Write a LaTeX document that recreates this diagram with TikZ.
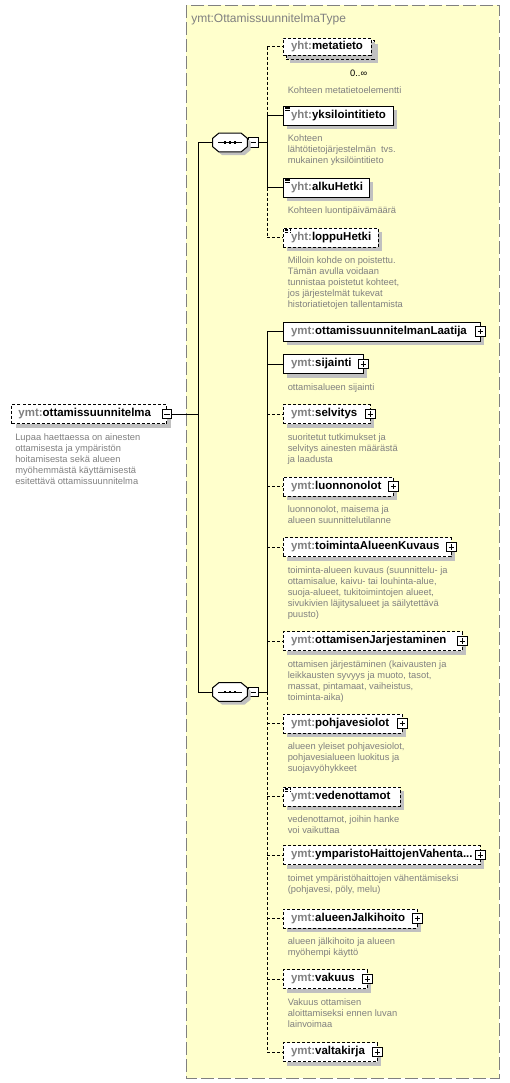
\documentclass[tikz,border=0pt]{standalone}
\usepackage{fontspec}
\setmainfont{Liberation Sans}
\usetikzlibrary{positioning,shadows}

\definecolor{typeyellow}{RGB}{255,255,204}
\definecolor{typegray}{RGB}{128,128,128}
\definecolor{shadowgray}{RGB}{192,192,192}
\definecolor{descgray}{RGB}{128,128,128}
\newcommand{\pfx}[1]{\textcolor{typegray}{#1}}
% octagon round a sequence node
\newcommand{\octpath}[1]{([shift={(6,0)}]#1.north west) -- ([shift={(-6,0)}]#1.north east)
    -- ([shift={(0,5)}]#1.north east) -- ([shift={(0,-5)}]#1.south east)
    -- ([shift={(-6,0)}]#1.south east) -- ([shift={(6,0)}]#1.south west)
    -- ([shift={(0,-5)}]#1.south west) -- ([shift={(0,5)}]#1.north west) -- cycle}

\begin{document}
\begin{tikzpicture}[x=0.75pt, y=-0.75pt,
    elem/.style={draw, fill=white, anchor=west, minimum height=14.25pt, inner xsep=6pt, inner ysep=0pt,
        align=left, text width=#1, line width=0.75pt, font=\fontsize{8.6}{10}\selectfont\bfseries,
        drop shadow={shadow xshift=3pt, shadow yshift=-3pt, fill=shadowgray, opacity=1}},
    optelem/.style={elem=#1, dash pattern=on 2.25pt off 1.5pt},
    smpl/.style={path picture={
        \foreach \k in {0.9,2.0,3.1}
            \draw[line width=0.5pt] ([shift={(1.6pt,-\k pt)}]path picture bounding box.north west) -- ++(3.8pt,0);}},
    plusbox/.style={draw, fill=white, minimum size=7pt, inner sep=0pt, line width=0.75pt,
        path picture={\draw[line width=0.75pt]
            ([xshift=1.4pt]path picture bounding box.west) -- ([xshift=-1.4pt]path picture bounding box.east)
            ([yshift=-1.4pt]path picture bounding box.north) -- ([yshift=1.4pt]path picture bounding box.south);}},
    minusbox/.style={draw, fill=white, minimum size=7pt, inner sep=0pt, line width=0.75pt,
        path picture={\draw[line width=0.75pt]
            ([xshift=1.4pt]path picture bounding box.west) -- ([xshift=-1.4pt]path picture bounding box.east);}},
    seqbox/.style={minimum width=25.5pt, minimum height=13.5pt, inner sep=0pt},
    desc/.style={anchor=north west, inner sep=0pt, align=left, text=descgray, font=\fontsize{7}{8.25}\selectfont},
    conn/.style={draw, line width=0.75pt},
    optconn/.style={conn, dash pattern=on 2.25pt off 1.5pt}
]
    % page and type frame
    \fill[white] (0,0) rectangle (510,1083);
    \useasboundingbox (0,0) rectangle (510,1083);
    \filldraw[fill=typeyellow, draw=typegray, line width=0.75pt, dash pattern=on 9.75pt off 3pt] (186,5) rectangle (499,1078);
    \node[anchor=west, inner sep=0pt, text=typegray, font=\fontsize{9}{10}\selectfont] (title) at (191,19) {ymt:OttamissuunnitelmaType};

    % root element
    \node[optelem=105.75pt, inner xsep=5.25pt] (root) at (11,414) {\mbox{\pfx{ymt:}ottamissuunnitelma}};
    \node[minusbox] (rootmin) at (root.east) {};
    \node[desc] (rootd) at ([shift={(4,9.5)}]root.south west) {Lupaa haettaessa on ainesten\\ottamisesta ja ympäristön\\hoitamisesta sekä alueen\\myöhemmästä käyttämisestä\\esitettävä ottamissuunnitelma};

    % sequences
    \node[seqbox] (seq1) at (230,142.5) {};
    \node[minusbox, right=0.75pt of seq1] (seq1min) {};
    \node[seqbox] (seq2) at (230,692) {};
    \node[minusbox, right=0.75pt of seq2] (seq2min) {};
    \foreach \s in {seq1,seq2} {
        \fill[shadowgray, transform canvas={shift={(2.5pt,-2.5pt)}}] \octpath{\s};
        \filldraw[fill=white, line width=0.75pt] \octpath{\s};
        \draw[line width=0.75pt] ([xshift=-9pt]\s.center) -- ([xshift=9pt]\s.center);
        \foreach \d in {-3.75pt,0pt,3.75pt}
            \fill ([xshift=\d]\s.center) +(-1.1pt,-1.1pt) rectangle +(1.1pt,1.1pt);
    }

    \coordinate (trunk) at (198,0);
    \coordinate (sp) at (267,0);

    % first sequence
    \node[optelem=54pt] (metaback) at (285.5,49.5) {\phantom{\mbox{\pfx{yht:}metatieto}}};
    \node[optelem=54pt, minimum height=12.75pt, drop shadow={shadow xshift=0pt, shadow yshift=0pt, fill=white, opacity=0}] (meta) at (282.5,46.5) {\mbox{\pfx{yht:}metatieto}};
    \node[anchor=base east, inner sep=0pt, font=\fontsize{7}{8}\selectfont] (metaocc) at ([shift={(-7,17)}]metaback.south east) {0..∞};
    \node[desc] (metad) at ([shift={(2,27)}]metaback.south west) {Kohteen metatietoelementti};

    \node[elem=70.5pt, smpl] (yks) at (282.5,115.5) {\mbox{\pfx{yht:}yksilointitieto}};
    \node[desc] (yksd) at ([shift={(5,9)}]yks.south west) {Kohteen\\lähtötietojärjestelmän\ \ tvs.\\mukainen yksilöintitieto};

    \node[elem=52.5pt, smpl] (alku) at (282.5,187.5) {\mbox{\pfx{yht:}alkuHetki}};
    \node[desc] (alkud) at ([shift={(5,9)}]alku.south west) {Kohteen luontipäivämäärä};

    \node[optelem=59.25pt, smpl] (loppu) at (282.5,237.5) {\mbox{\pfx{yht:}loppuHetki}};
    \node[desc] (loppud) at ([shift={(5,9)}]loppu.south west) {Milloin kohde on poistettu.\\Tämän avulla voidaan\\tunnistaa poistetut kohteet,\\jos järjestelmät tukevat\\historiatietojen tallentamista};

    % second sequence
    \node[elem=135.75pt] (laat) at (282.5,331.5) {\mbox{\pfx{ymt:}ottamissuunnitelmanLaatija}};

    \node[elem=48pt] (sij) at (282.5,364) {\mbox{\pfx{ymt:}sijainti}};
    \node[desc] (sijd) at ([shift={(5,9)}]sij.south west) {ottamisalueen sijainti};

    \node[optelem=53.25pt] (selv) at (282.5,414) {\mbox{\pfx{ymt:}selvitys}};
    \node[desc] (selvd) at ([shift={(5,9)}]selv.south west) {suoritetut tutkimukset ja\\selvitys ainesten määrästä\\ja laadusta};

    \node[optelem=70.5pt] (luonn) at (282.5,486.5) {\mbox{\pfx{ymt:}luonnonolot}};
    \node[desc] (luonnd) at ([shift={(5,9)}]luonn.south west) {luonnonolot, maisema ja\\alueen suunnittelutilanne};

    \node[optelem=114pt] (toim) at (282.5,547) {\mbox{\pfx{ymt:}toimintaAlueenKuvaus}};
    \node[desc] (toimd) at ([shift={(5,9)}]toim.south west) {toiminta-alueen kuvaus (suunnittelu- ja\\ottamisalue, kaivu- tai louhinta-alue,\\suoja-alueet, tukitoimintojen alueet,\\sivukivien läjitysalueet ja säilytettävä\\puusto)};

    \node[optelem=122.25pt] (ottj) at (282.5,641) {\mbox{\pfx{ymt:}ottamisenJarjestaminen}};
    \node[desc] (ottjd) at ([shift={(5,9)}]ottj.south west) {ottamisen järjestäminen (kaivausten ja\\leikkausten syvyys ja muoto, tasot,\\massat, pintamaat, vaiheistus,\\toiminta-aika)};

    \node[optelem=77.25pt] (pohja) at (282.5,723.5) {\mbox{\pfx{ymt:}pohjavesiolot}};
    \node[desc] (pohjad) at ([shift={(5,9)}]pohja.south west) {alueen yleiset pohjavesiolot,\\pohjavesialueen luokitus ja\\suojavyöhykkeet};

    \node[optelem=75.75pt, smpl] (veden) at (282.5,796.5) {\mbox{\pfx{ymt:}vedenottamot}};
    \node[desc] (vedend) at ([shift={(5,9)}]veden.south west) {vedenottamot, joihin hanke\\voi vaikuttaa};

    \node[optelem=135.75pt] (ymp) at (282.5,855) {\mbox{\pfx{ymt:}ymparistoHaittojenVahenta...}};
    \node[desc] (ympd) at ([shift={(5,9)}]ymp.south west) {toimet ympäristöhaittojen vähentämiseksi\\(pohjavesi, pöly, melu)};

    \node[optelem=88.5pt] (alj) at (282.5,918.5) {\mbox{\pfx{ymt:}alueenJalkihoito}};
    \node[desc] (aljd) at ([shift={(5,9)}]alj.south west) {alueen jälkihoito ja alueen\\myöhempi käyttö};

    \node[optelem=51pt] (vak) at (282.5,979) {\mbox{\pfx{ymt:}vakuus}};
    \node[desc] (vakd) at ([shift={(5,9)}]vak.south west) {Vakuus ottamisen\\aloittamiseksi ennen luvan\\lainvoimaa};

    \node[optelem=58.5pt] (valta) at (282.5,1052) {\mbox{\pfx{ymt:}valtakirja}};

    \foreach \n in {laat,sij,selv,luonn,toim,ottj,pohja,ymp,alj,vak,valta}
        \node[plusbox] (\n-plus) at (\n.east) {};

    % connectors
    \draw[conn] (rootmin.east) -- (rootmin.east -| trunk);
    \draw[conn] (seq1.west) -- (seq1.west -| trunk) -- (seq2.west -| trunk) -- (seq2.west);
    \draw[conn] (seq1min.east) -- (seq1min.east -| sp);
    \draw[conn] (seq2min.east) -- (seq2min.east -| sp);

    \draw[optconn] (meta.west -| sp) -- (yks.west -| sp);
    \draw[conn] (yks.west -| sp) -- (alku.west -| sp);
    \draw[optconn] (alku.west -| sp) -- (loppu.west -| sp);
    \foreach \n in {yks,alku}
        \draw[conn] (\n.west -| sp) -- (\n.west);
    \foreach \n in {meta,loppu}
        \draw[optconn] (\n.west -| sp) -- (\n.west);

    \draw[conn] (laat.west -| sp) -- (seq2.west -| sp);
    \draw[optconn] (seq2.west -| sp) -- (valta.west -| sp);
    \foreach \n in {laat,sij}
        \draw[conn] (\n.west -| sp) -- (\n.west);
    \foreach \n in {selv,luonn,toim,ottj,pohja,veden,ymp,alj,vak,valta}
        \draw[optconn] (\n.west -| sp) -- (\n.west);
\end{tikzpicture}
\end{document}
